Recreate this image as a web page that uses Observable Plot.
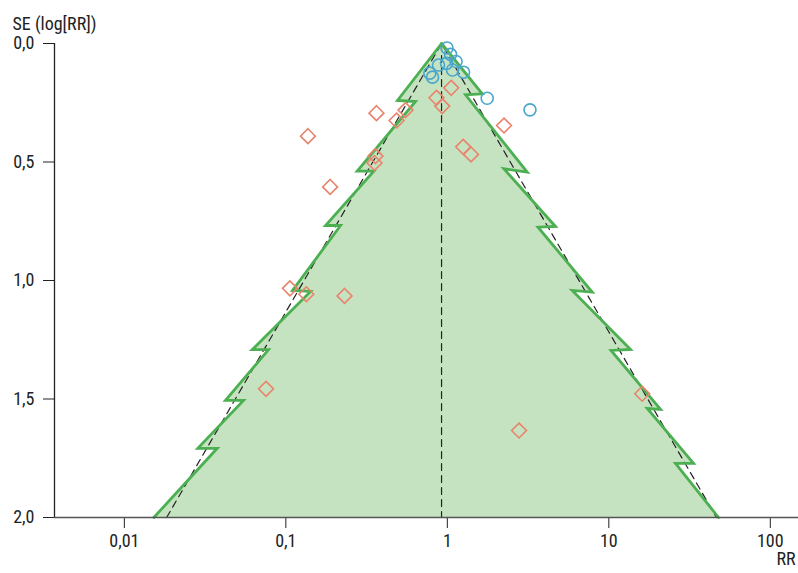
<!DOCTYPE html>
<html>
<head>
<meta charset="utf-8">
<script src="https://cdn.jsdelivr.net/npm/d3@7"></script>
<script src="https://cdn.jsdelivr.net/npm/@observablehq/plot@0.6"></script>
<style>
  html, body { margin: 0; padding: 0; background: white; overflow: hidden; }
  #chart svg { display: block; }
</style>
</head>
<body>
<div id="chart"></div>
<script>
// ---- data ----
const pooledRR = 0.921;          // summary estimate (apex of funnel)
const zCrit = 1.96;
const seMax = 2.0;

// studies group A (blue circles)
const circleRR = [0.996, 1.047, 1.132, 0.882, 0.989, 1.077, 1.26, 0.779, 0.81, 1.766, 3.25];
const circleSE = [0.019, 0.046, 0.076, 0.091, 0.084, 0.112, 0.121, 0.125, 0.142, 0.231, 0.280];

// studies group B (orange diamonds)
const diamondRR = [0.137, 0.364, 0.551, 0.485, 0.857, 0.930, 1.057, 2.244, 1.254, 1.402, 0.359, 0.354, 0.188, 0.106, 0.134, 0.231, 0.0754, 16.1, 2.78];
const diamondSE = [0.391, 0.294, 0.281, 0.325, 0.229, 0.264, 0.187, 0.346, 0.436, 0.468, 0.475, 0.504, 0.605, 1.033, 1.058, 1.065, 1.457, 1.478, 1.633];

// jagged ("tree") funnel outline, vertices from apex downward
const leftRR  = [0.921, 0.4915, 0.6355, 0.2767, 0.3507, 0.1761, 0.2182, 0.110, 0.1422, 0.0619, 0.0781, 0.0423, 0.0547, 0.0285, 0.0376, 0.01523];
const leftSE  = [0, 0.2405, 0.2447, 0.5388, 0.5388, 0.768, 0.768, 1.042, 1.046, 1.292, 1.292, 1.506, 1.506, 1.708, 1.708, 2.0];
const rightRR = [0.921, 1.645, 1.296, 3.124, 2.238, 4.677, 3.644, 7.894, 5.934, 13.63, 10.32, 20.9, 17.29, 33.45, 25.88, 47.8];
const rightSE = [0, 0.2122, 0.2165, 0.543, 0.5287, 0.772, 0.775, 1.049, 1.042, 1.291, 1.295, 1.544, 1.540, 1.772, 1.772, 2.0];

// axis ticks
const xTicks = [0.01, 0.1, 1, 10, 100];
const xTickLabels = ["0,01", "0,1", "1", "10", "100"];
const yTicks = [0, 0.5, 1, 1.5, 2];
const yTickLabels = ["0,0", "0,5", "1,0", "1,5", "2,0"];
const yLabel = "SE (log[RR])";
const xLabel = "RR";

// ---- build tables ----
const circles = circleRR.map((rr, i) => ({rr, se: circleSE[i]}));
const diamonds = diamondRR.map((rr, i) => ({rr, se: diamondSE[i]}));
const leftEdge = leftRR.map((rr, i) => ({rr, se: leftSE[i]}));
const rightEdge = rightRR.map((rr, i) => ({rr, se: rightSE[i]}));
const polygon = [...rightEdge, ...leftEdge.slice().reverse()];
const dashed = [
  {rr: pooledRR * Math.exp(-zCrit * seMax), se: seMax},
  {rr: pooledRR, se: 0},
  {rr: pooledRR * Math.exp(zCrit * seMax), se: seMax}
];
const centre = [{rr: pooledRR, se: 0}, {rr: pooledRR, se: seMax}];

const font = "'Roboto Condensed', 'Liberation Sans Narrow', 'DejaVu Sans Condensed', 'Arial Narrow', Roboto, sans-serif";
const xMin = Math.pow(10, -2.4325), xMax = Math.pow(10, 2.1746);

const chart = Plot.plot({
  width: 798,
  height: 573,
  marginLeft: 54,
  marginTop: 43,
  marginBottom: 56,
  marginRight: 0,
  style: {fontFamily: font, fontSize: "18px", color: "#222", background: "white", overflow: "visible", fontStretch: "condensed"},
  x: {type: "log", domain: [xMin, xMax], ticks: xTicks, tickFormat: d => xTickLabels[xTicks.indexOf(d)] ?? "", tickSize: 11, tickPadding: 6, label: null},
  y: {domain: [seMax, 0], ticks: yTicks, tickFormat: d => yTickLabels[yTicks.indexOf(d)] ?? "", tickSize: 11, tickPadding: 9, label: null},
  marks: [
    Plot.line(polygon, {x: "rr", y: "se", fill: "#c6e3c1", stroke: "none"}),
    Plot.line(centre, {x: "rr", y: "se", stroke: "#222", strokeWidth: 1.2, strokeDasharray: "7,5"}),
    Plot.line(dashed, {x: "rr", y: "se", stroke: "#222", strokeWidth: 1.2, strokeDasharray: "7,5"}),
    Plot.line(leftEdge, {x: "rr", y: "se", stroke: "#4cb052", strokeWidth: 2.8, strokeLinejoin: "miter", strokeMiterlimit: 10}),
    Plot.line(rightEdge, {x: "rr", y: "se", stroke: "#4cb052", strokeWidth: 2.8, strokeLinejoin: "miter", strokeMiterlimit: 10}),
    Plot.dot(diamonds, {x: "rr", y: "se", symbol: "diamond2", r: 6.7, stroke: "#e8846c", strokeWidth: 1.6, fill: "none"}),
    Plot.dot(circles, {x: "rr", y: "se", symbol: "circle", r: 6, stroke: "#4aa6cc", strokeWidth: 1.6, fill: "none"}),
    Plot.ruleX([xMin], {stroke: "#222", strokeWidth: 1.3}),
    Plot.ruleY([seMax], {stroke: "#555", strokeWidth: 1.6}),
    Plot.text([yLabel], {frameAnchor: "top-left", dx: -42, dy: -26, textAnchor: "start", fontSize: 18, fill: "#222"}),
    Plot.text([xLabel], {frameAnchor: "bottom-right", dx: -3, dy: 47, textAnchor: "end", fontSize: 18, fill: "#222"})
  ]
});
document.getElementById("chart").appendChild(chart);
</script>
</body>
</html>
